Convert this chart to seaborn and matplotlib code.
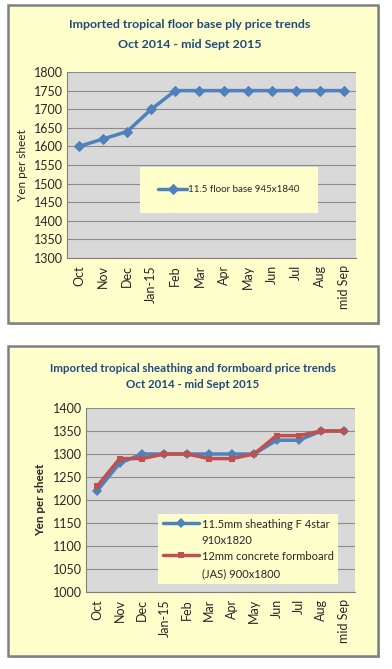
import numpy as np
import pandas as pd
import matplotlib
matplotlib.use("Agg")
import matplotlib.pyplot as plt
import seaborn as sns
from matplotlib.patches import Rectangle

sns.set_style("white")
plt.rcParams['font.family'] = ['Lato', 'DejaVu Sans']

months = ["Oct", "Nov", "Dec", "Jan-15", "Feb", "Mar", "Apr", "May",
          "Jun", "Jul", "Aug", "mid Sep"]
floor_base = [1600, 1620, 1640, 1700, 1750, 1750, 1750, 1750, 1750, 1750, 1750, 1750]
sheathing = [1220, 1280, 1300, 1300, 1300, 1300, 1300, 1300, 1330, 1330, 1350, 1350]
formboard = [1230, 1290, 1290, 1300, 1300, 1290, 1290, 1300, 1340, 1340, 1350, 1350]

floor_label = "11.5 floor base 945x1840"
sheath_label = "11.5mm sheathing F 4star\n910x1820"
form_label = "12mm concrete formboard\n(JAS) 900x1800"

BLUE = "#4F81BD"
RED = "#C0504D"
PANEL = "#FFFFCC"
PLOTBG = "#D9D9D9"
TITLE = "#1F497D"

W, H = 392, 669
fig = plt.figure(figsize=(W / 100, H / 100), dpi=100)


def fx(x):
    return x / W


def fy(y):
    return 1 - y / H


def panel(x0, y0, x1, y1):
    fig.patches.append(Rectangle((fx(x0) + 2 / W, fy(y1) - 2 / H), fx(x1) - fx(x0), fy(y0) - fy(y1),
                                 transform=fig.transFigure, facecolor="#BFBFBF",
                                 edgecolor="none", zorder=-2))
    fig.patches.append(Rectangle((fx(x0), fy(y1)), fx(x1) - fx(x0), fy(y0) - fy(y1),
                                 transform=fig.transFigure, facecolor=PANEL,
                                 edgecolor="#808080", linewidth=1.8, zorder=-1))


def style_axes(ax, ylim, step):
    ax.set_facecolor(PLOTBG)
    ax.set_xlim(-0.5, len(months) - 0.5)
    ax.set_ylim(*ylim)
    ax.set_yticks(np.arange(ylim[0], ylim[1] + 1, step))
    ax.set_xticks(range(len(months)))
    ax.set_xticklabels(months, rotation=90)
    ax.tick_params(axis="both", labelsize=9, length=0, pad=3)
    ax.tick_params(axis="x", pad=5)
    ax.grid(axis="y", color="#8C8C8C", linewidth=0.8)
    ax.set_axisbelow(True)
    for s in ["top", "right"]:
        ax.spines[s].set_visible(False)
    for s in ["left", "bottom"]:
        ax.spines[s].set_color("#808080")
        ax.spines[s].set_linewidth(0.8)
    ax.set_xlabel("")


def flat_frame(leg):
    fr = leg.get_frame()
    fr.set_facecolor(PANEL)
    fr.set_edgecolor("none")
    fr.set_alpha(1)
    fr.set_boxstyle("square", pad=0)


# ---- top panel ----
panel(8, 5, 378, 323)
fig.text(fx(190), fy(25), "Imported tropical floor base ply price trends",
         ha="center", va="center", fontsize=8.9, fontweight="bold", color=TITLE)
fig.text(fx(190), fy(44), "Oct 2014 - mid Sept 2015",
         ha="center", va="center", fontsize=8.9, fontweight="bold", color=TITLE)

ax1 = fig.add_axes([fx(67), fy(258), (356 - 67) / W, (258 - 72) / H])
df1 = pd.DataFrame({"x": range(len(months)), "y": floor_base})
sns.lineplot(data=df1, x="x", y="y", ax=ax1, color=BLUE, linewidth=2.5,
             marker="D", markersize=5.5, markeredgecolor=BLUE, label=floor_label)
style_axes(ax1, (1300, 1800), 50)
ax1.set_ylabel("Yen per sheet", fontsize=8.5, labelpad=4)
leg1 = ax1.legend(loc="center", bbox_to_anchor=(fx(229), fy(190)),
                  bbox_transform=fig.transFigure, frameon=True, fontsize=7.0,
                  handlelength=3.0, handletextpad=0.1, borderpad=1.9,
                  borderaxespad=0)
flat_frame(leg1)

# ---- bottom panel ----
panel(8, 346, 378, 656)
fig.text(fx(193), fy(369), "Imported tropical sheathing and formboard price trends",
         ha="center", va="center", fontsize=8.3, fontweight="bold", color=TITLE)
fig.text(fx(193), fy(385), "Oct 2014 - mid Sept 2015",
         ha="center", va="center", fontsize=8.3, fontweight="bold", color=TITLE)

ax2 = fig.add_axes([fx(86), fy(592), (355 - 86) / W, (592 - 408) / H])
df2 = pd.DataFrame({
    "x": list(range(len(months))) * 2,
    "y": sheathing + formboard,
    "series": [sheath_label] * len(months) + [form_label] * len(months),
})
sns.lineplot(data=df2, x="x", y="y", hue="series", style="series", ax=ax2,
             palette=[BLUE, RED], markers=["D", "s"], dashes=False,
             linewidth=2.5, markersize=5, markeredgewidth=0)
style_axes(ax2, (1000, 1400), 50)
ax2.set_ylabel("Yen per sheet", fontsize=8.5, fontweight="bold", labelpad=4.5)
leg2 = ax2.legend(loc="center", bbox_to_anchor=(fx(248), fy(549)),
                  bbox_transform=fig.transFigure, frameon=True, fontsize=8,
                  handlelength=3.3, handletextpad=0.2, borderpad=0.45,
                  borderaxespad=0, labelspacing=0.45, title=None)
flat_frame(leg2)
for t in leg2.get_texts():
    t.set_linespacing(1.6)
# handle sits next to the first line of each entry, as in the original
for col in leg2._legend_handle_box.get_children():
    for row in col.get_children():
        row.align = "top"

fig.savefig("out.png", dpi=100)
